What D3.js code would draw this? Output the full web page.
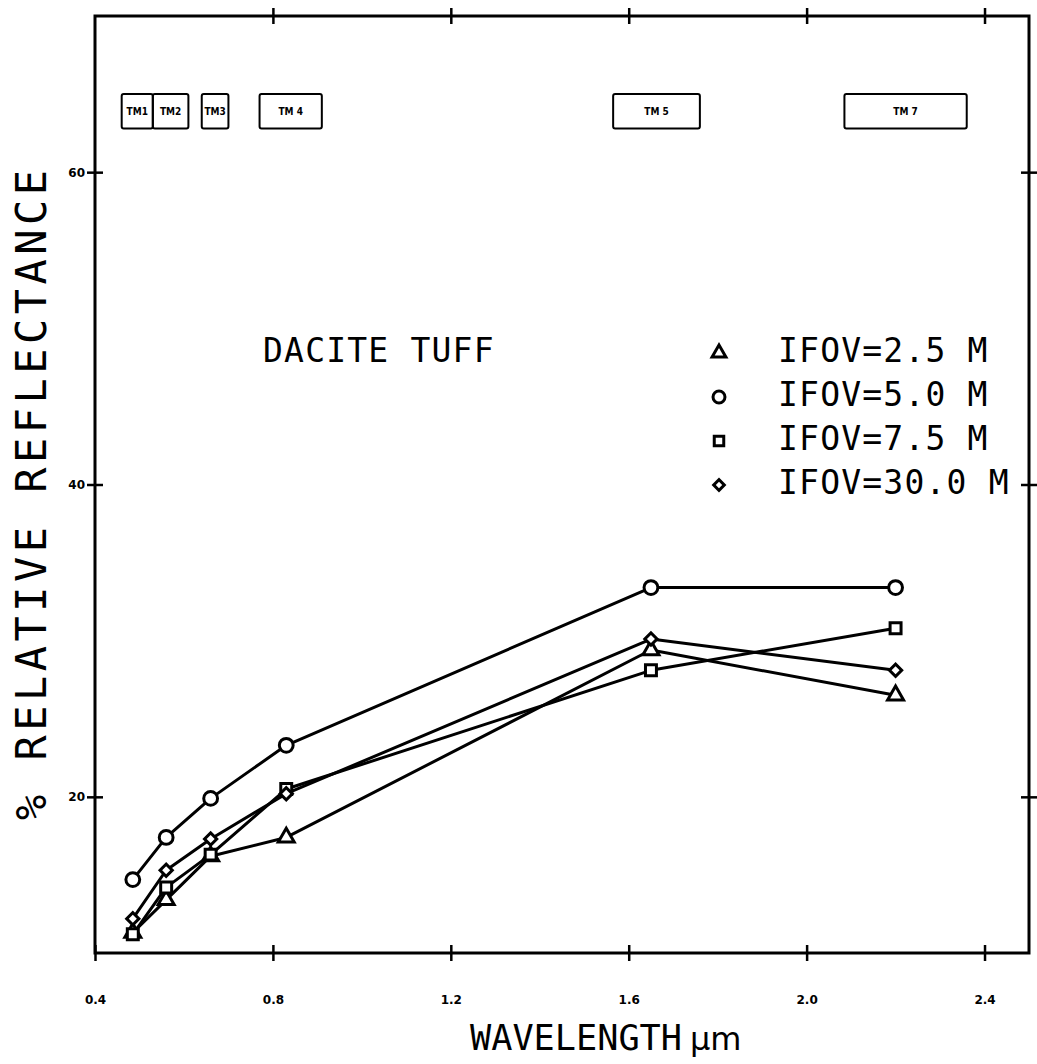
<!DOCTYPE html>
<html><head><meta charset="utf-8">
<script src="https://cdn.jsdelivr.net/npm/d3@7"></script>
<style>body{margin:0;background:#fff}svg{display:block}</style>
</head><body>
<svg id="chart" width="1037" height="1064"></svg>
<script>
// ---- data ----
const wavelengths = [0.485, 0.56, 0.66, 0.83, 1.65, 2.2];
const ifov25  = [11.3, 13.4, 16.2, 17.4, 29.4, 26.5];   // triangle
const ifov50  = [14.7, 17.4, 19.9, 23.3, 33.4, 33.4];   // circle
const ifov75  = [11.2, 14.2, 16.3, 20.5, 28.1, 30.8];   // square
const ifov300 = [12.2, 15.3, 17.3, 20.2, 30.1, 28.1];   // diamond
const seriesNames = ["IFOV=2.5 M", "IFOV=5.0 M", "IFOV=7.5 M", "IFOV=30.0 M"];
const seriesSymbols = ["triangle", "circle", "square", "diamond"];
const xTicks = [0.4, 0.8, 1.2, 1.6, 2.0, 2.4];
const xTickLabels = ["0.4", "0.8", "1.2", "1.6", "2.0", "2.4"];
const yTicks = [20, 40, 60];
const bandNames = ["TM1", "TM2", "TM3", "TM 4", "TM 5", "TM 7"];
const bandStart = [0.46, 0.53, 0.64, 0.77, 1.565, 2.085];
const bandEnd   = [0.53, 0.61, 0.70, 0.91, 1.76, 2.36];
const bandTop = 65.0, bandBottom = 62.8;

// ---- layout ----
const svg = d3.select("#chart");
const L = 95, R = 1029, T = 16, B = 953;
const x = d3.scaleLinear().domain([0.4, 2.5]).range([L, R]);
const y = d3.scaleLinear().domain([10, 70]).range([B, T]);
const plotFont = "'DejaVu Sans Mono', monospace";

// frame
svg.append("rect").attr("x", L).attr("y", T).attr("width", R - L).attr("height", B - T)
  .attr("fill", "none").attr("stroke", "#000").attr("stroke-width", 3);

// bottom axis
const gx = svg.append("g").attr("transform", `translate(0,${B})`)
  .call(d3.axisBottom(x).tickValues(xTicks).tickFormat((d, i) => xTickLabels[i]).tickSize(8).tickPadding(34));
gx.select(".domain").remove();
gx.selectAll(".tick line").attr("y1", -8).attr("y2", 8).attr("stroke-width", 2.5);
gx.selectAll(".tick text").attr("font-family", "'DejaVu Sans', sans-serif").attr("font-weight", "bold")
  .attr("font-size", 12).attr("fill", "#000");

// top axis
const gxt = svg.append("g").attr("transform", `translate(0,${T})`)
  .call(d3.axisTop(x).tickValues(xTicks.slice(1)).tickFormat("").tickSize(8));
gxt.select(".domain").remove();
gxt.selectAll(".tick line").attr("y1", -8).attr("y2", 8).attr("stroke-width", 2.5);

// left axis
const gy = svg.append("g").attr("transform", `translate(${L},0)`)
  .call(d3.axisLeft(y).tickValues(yTicks).tickSize(8).tickPadding(2));
gy.select(".domain").remove();
gy.selectAll(".tick line").attr("x1", -8).attr("x2", 8).attr("stroke-width", 2.5);
gy.selectAll(".tick text").attr("font-family", "'DejaVu Sans', sans-serif").attr("font-weight", "bold")
  .attr("font-size", 12).attr("fill", "#000");

// right axis
const gyr = svg.append("g").attr("transform", `translate(${R},0)`)
  .call(d3.axisRight(y).tickValues(yTicks).tickFormat("").tickSize(8));
gyr.select(".domain").remove();
gyr.selectAll(".tick line").attr("x1", -8).attr("x2", 8).attr("stroke-width", 2.5);

// TM band boxes
const bands = bandNames.map((n, i) => ({ n, s: bandStart[i], e: bandEnd[i] }));
const bg = svg.append("g");
bg.selectAll("rect").data(bands).join("rect")
  .attr("x", d => x(d.s)).attr("y", y(bandTop))
  .attr("width", d => x(d.e) - x(d.s)).attr("height", y(bandBottom) - y(bandTop))
  .attr("rx", 2).attr("fill", "none").attr("stroke", "#000").attr("stroke-width", 2);
bg.selectAll("text").data(bands).join("text")
  .attr("x", d => (x(d.s) + x(d.e)) / 2).attr("y", (y(bandTop) + y(bandBottom)) / 2 + 4)
  .attr("text-anchor", "middle").attr("font-family", "'DejaVu Sans Condensed', 'DejaVu Sans', sans-serif")
  .attr("font-weight", "bold").attr("font-size", 10).text(d => d.n);

// symbols
const symMap = { triangle: d3.symbolTriangle, circle: d3.symbolCircle, square: d3.symbolSquare, diamond: d3.symbolSquare };
const symSize = { triangle: 110, circle: 150, square: 120, diamond: 75 };
const symRot = { triangle: 0, circle: 0, square: 0, diamond: 45 };
const symbolPath = (s, k) => d3.symbol().type(symMap[s]).size(symSize[s] * k)();

const seriesValues = [ifov25, ifov50, ifov75, ifov300];
const line = d3.line().x(d => x(d[0])).y(d => y(d[1]));
const sg = svg.append("g");
seriesValues.forEach((vals, si) => {
  const s = seriesSymbols[si];
  const pts = wavelengths.map((w, i) => [w, vals[i]]);
  sg.append("path").attr("d", line(pts)).attr("fill", "none").attr("stroke", "#000")
    .attr("stroke-width", 3).attr("stroke-linejoin", "round");
  sg.append("g").selectAll("path").data(pts).join("path")
    .attr("transform", d => `translate(${x(d[0])},${y(d[1])}) rotate(${symRot[s]})`)
    .attr("d", symbolPath(s, 1))
    .attr("fill", "#fff").attr("stroke", "#000").attr("stroke-width", 3);
});

// legend
const lg = svg.append("g");
const legRowY = [350, 394, 438, 482];
seriesNames.forEach((n, i) => {
  const s = seriesSymbols[i];
  lg.append("path").attr("transform", `translate(719,${legRowY[i] + 3}) rotate(${symRot[s]})`)
    .attr("d", symbolPath(s, 0.75))
    .attr("fill", "#fff").attr("stroke", "#000").attr("stroke-width", 3);
  lg.append("text").attr("x", 778).attr("y", legRowY[i] + 12)
    .attr("font-family", plotFont).attr("font-size", 33).attr("letter-spacing", 1.2)
    .text(n);
});

// annotation
svg.append("text").attr("x", 263).attr("y", 362)
  .attr("font-family", plotFont).attr("font-size", 33).attr("letter-spacing", 1.2)
  .text("DACITE TUFF");

// axis titles
svg.append("text").attr("transform", "translate(46,495) rotate(-90)")
  .attr("text-anchor", "middle").attr("font-family", plotFont).attr("font-size", 42)
  .attr("textLength", 650).attr("lengthAdjust", "spacing")
  .text("% RELATIVE REFLECTANCE");
svg.append("text").attr("x", 470).attr("y", 1050)
  .attr("font-family", plotFont).attr("font-size", 36)
  .attr("textLength", 212).attr("lengthAdjust", "spacingAndGlyphs")
  .text("WAVELENGTH");
svg.append("text").attr("x", 690).attr("y", 1050)
  .attr("font-family", "'DejaVu Sans', sans-serif").attr("font-size", 32)
  .text("µm");
</script>
</body></html>
